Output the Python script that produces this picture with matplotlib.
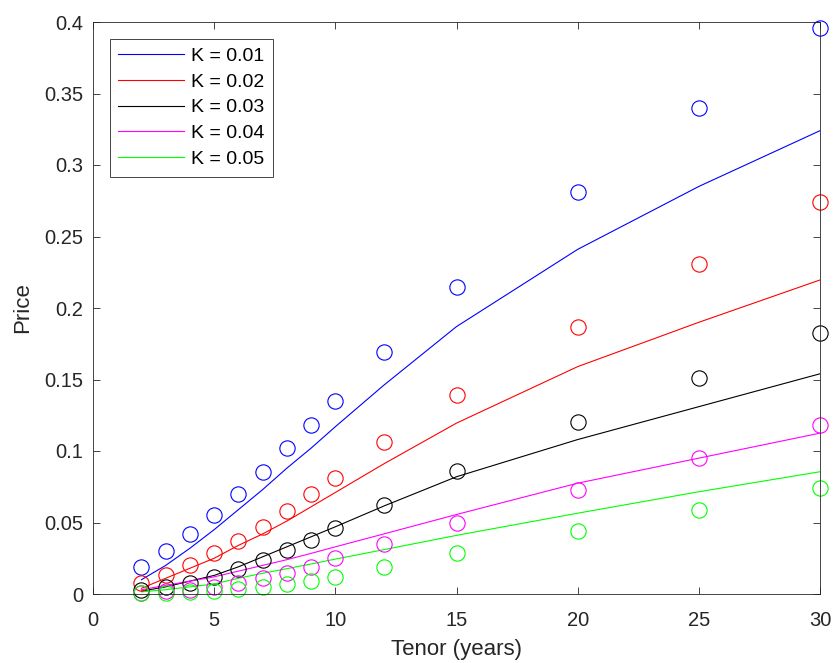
import matplotlib
matplotlib.use("Agg")
import matplotlib.pyplot as plt

plt.rcParams['font.family'] = ['Liberation Sans', 'DejaVu Sans']

tenors = [2, 3, 4, 5, 6, 7, 8, 9, 10, 12, 15, 20, 25, 30]
strikes = ["K = 0.01", "K = 0.02", "K = 0.03", "K = 0.04", "K = 0.05"]
colors = ["#0000ff", "#ff0000", "#000000", "#ff00ff", "#00ff00"]

# model (lines)
model_k1 = [0.010, 0.020, 0.032, 0.045, 0.059, 0.073, 0.088, 0.102, 0.117, 0.146, 0.187, 0.241, 0.285, 0.324]
model_k2 = [0.004, 0.011, 0.018, 0.025, 0.034, 0.042, 0.051, 0.061, 0.071, 0.091, 0.1195, 0.159, 0.190, 0.2196]
model_k3 = [0.002, 0.005, 0.009, 0.013, 0.019, 0.026, 0.033, 0.040, 0.047, 0.0615, 0.082, 0.108, 0.131, 0.154]
model_k4 = [0.003, 0.006, 0.009, 0.012, 0.016, 0.020, 0.024, 0.0284, 0.033, 0.042, 0.0556, 0.0775, 0.095, 0.1125]
model_k5 = [0.0015, 0.003, 0.005, 0.007, 0.011, 0.0145, 0.0177, 0.021, 0.0244, 0.031, 0.041, 0.0565, 0.0715, 0.0855]

# market (circles)
mkt_k1 = [0.019, 0.030, 0.042, 0.055, 0.070, 0.085, 0.102, 0.118, 0.135, 0.169, 0.215, 0.281, 0.340, 0.396]
mkt_k2 = [0.0077, 0.013, 0.020, 0.029, 0.037, 0.047, 0.058, 0.070, 0.081, 0.106, 0.139, 0.187, 0.231, 0.274]
mkt_k3 = [0.003, 0.005, 0.008, 0.012, 0.0175, 0.024, 0.031, 0.038, 0.046, 0.062, 0.086, 0.120, 0.151, 0.1825]
mkt_k4 = [0.001, 0.002, 0.003, 0.005, 0.008, 0.011, 0.015, 0.019, 0.025, 0.035, 0.050, 0.073, 0.095, 0.118]
mkt_k5 = [0.0005, 0.001, 0.0015, 0.002, 0.0035, 0.005, 0.007, 0.009, 0.012, 0.019, 0.029, 0.044, 0.059, 0.074]

models = [model_k1, model_k2, model_k3, model_k4, model_k5]
markets = [mkt_k1, mkt_k2, mkt_k3, mkt_k4, mkt_k5]

xticks = [0, 5, 10, 15, 20, 25, 30]
yticks = [0, 0.05, 0.1, 0.15, 0.2, 0.25, 0.3, 0.35, 0.4]
ytick_labels = ["0", "0.05", "0.1", "0.15", "0.2", "0.25", "0.3", "0.35", "0.4"]

fig = plt.figure(figsize=(8.34, 6.63), dpi=100)
ax = fig.add_axes([93/834, 1 - 594/663, (820-93)/834, (594-22)/663])

lines = []
for m, c, lab in zip(models, colors, strikes):
    l, = ax.plot(tenors, m, color=c, lw=0.8, label=lab)
    lines.append(l)
for mk, c in zip(markets, colors):
    ax.plot(tenors, mk, linestyle='none', marker='o', markersize=11,
            markerfacecolor='none', markeredgecolor=c, markeredgewidth=0.8,
            clip_on=False)

ax.set_xlim(0, 30)
ax.set_ylim(0, 0.4)
ax.set_xticks(xticks)
ax.set_xticklabels([str(t) for t in xticks])
ax.set_yticks(yticks)
ax.set_yticklabels(ytick_labels)
ax.tick_params(direction='in', top=True, right=True, length=5, width=0.6,
               labelsize=14.5, colors='#262626')
ax.tick_params(axis='x', pad=12)
ax.tick_params(axis='y', pad=7)
for s in ax.spines.values():
    s.set_color('#262626')
    s.set_linewidth(0.6)
ax.set_xlabel("Tenor (years)", fontsize=16, color='#262626', labelpad=7)
ax.set_ylabel("Price", fontsize=16, color='#262626', labelpad=8)

leg = ax.legend(handles=lines, loc='upper left', fontsize=14, frameon=True,
                fancybox=False, edgecolor='#262626', framealpha=1,
                handlelength=3.4, borderaxespad=0.85, labelspacing=0.42,
                handletextpad=0.35, borderpad=0.45)
leg.get_frame().set_linewidth(0.6)

fig.savefig("out.png", dpi=100)
